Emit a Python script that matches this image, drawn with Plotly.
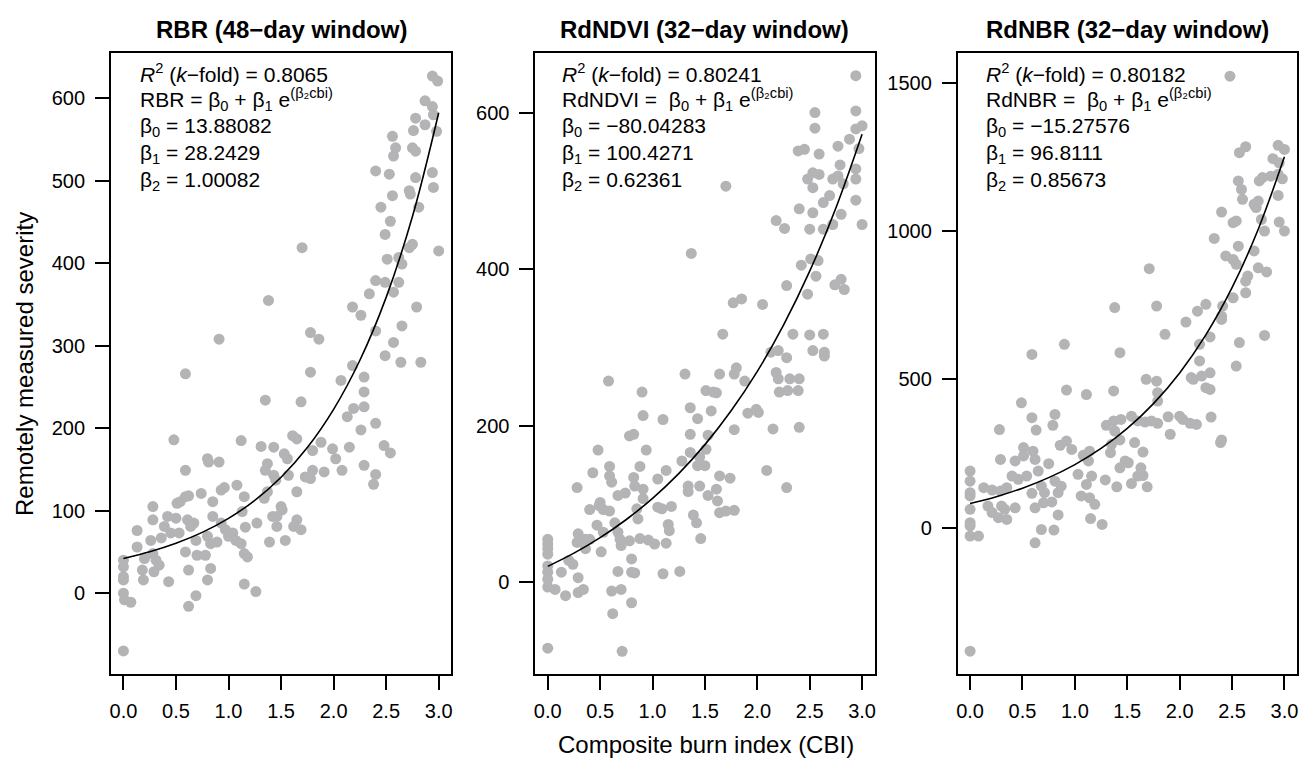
import plotly.graph_objects as go

# ---------------- data ----------------
rbr_cbi = [2.94, 2.99, 2.87, 2.94, 2.95, 2.78, 2.87, 2.98, 2.76, 2.56, 2.59, 2.57, 2.75, 2.78, 2.40, 2.53,
           2.78, 2.94, 2.95, 2.72, 2.73, 2.56, 2.81, 2.45, 2.54, 2.49, 2.75, 2.72, 3.00, 1.70, 2.51, 2.62,
           2.65, 2.40, 2.49, 2.57, 2.62, 2.34, 2.18, 2.26, 2.79, 1.38, 2.65, 2.40, 1.78, 1.86, 0.91, 2.57,
           2.49, 2.64, 2.83, 2.18, 0.59, 1.78, 2.07, 2.29,
           2.29, 1.35, 1.69, 2.19, 2.29, 2.13, 2.40, 2.26, 0.48, 1.12, 1.61, 1.65, 1.88, 1.31, 1.43, 1.53,
           1.56, 1.99, 2.02, 2.15, 1.80, 2.48, 2.54, 0.80, 0.81, 0.91, 1.37, 1.35, 0.59, 1.43, 1.45, 1.57,
           1.73, 1.78, 1.80, 1.91, 2.08, 2.29, 2.40, 2.38, 1.08, 0.93, 0.96, 0.74, 0.62, 0.59, 1.15, 1.65,
           1.34, 1.37, 0.51, 0.54, 0.85, 0.28, 1.50, 1.51, 1.46, 1.13, 0.42, 0.50, 0.28, 0.85, 0.61, 0.67,
           0.64, 0.93, 1.27, 1.42, 1.65, 1.62, 1.69, 1.46, 1.16, 0.13, 0.39, 0.45, 0.53, 0.97, 1.04, 1.00,
           0.36, 0.26, 0.69, 0.80, 0.83, 0.89, 1.07, 1.12, 1.39, 1.54, 0.13, 0.28, 0.20, 0.31, 0.59, 0.70,
           0.78, 1.15, 1.18, 0.00, 0.00, 0.00, 0.34, 0.29, 0.18, 0.62, 0.83, 0.19, 0.43, 0.80, 0.00, 0.00,
           0.01, 0.07, 0.69, 0.62, 1.15, 1.26, 0.00]
rbr_val = [627, 621, 597, 590, 580, 576, 568, 560, 561, 554, 540, 530, 540, 536, 512, 508,
           504, 510, 492, 488, 484, 482, 468, 468, 451, 435, 423, 419, 415, 419, 405, 407,
           399, 379, 377, 365, 377, 363, 347, 337, 347, 355, 324, 318, 316, 308, 308, 304,
           288, 280, 280, 276, 266, 268, 258, 262,
           244, 234, 232, 224, 226, 214, 206, 198, 186, 185, 191, 187, 183, 178, 177, 169,
           163, 175, 163, 177, 173, 179, 170, 163, 159, 159, 157, 149, 149, 143, 137, 143,
           141, 139, 149, 147, 149, 155, 144, 132, 131, 125, 128, 121, 118, 117, 117, 123,
           115, 123, 109, 111, 111, 105, 105, 101, 93, 99, 93, 91, 89, 93, 89, 85,
           81, 85, 85, 93, 89, 81, 77, 81, 80, 76, 81, 73, 73, 77, 73, 69,
           67, 64, 64, 69, 60, 62, 64, 60, 62, 64, 56, 48, 42, 40, 50, 46,
           46, 48, 44, 40, 32, 20, 34, 26, 28, 28, 30, 16, 14, 16, 16, 0,
           -8, -11, -3, -16, 11, 2, -70]

ndvi_cbi = [2.94, 2.55, 2.94, 2.55, 3.00, 2.94, 2.88, 2.77, 2.97, 2.39, 2.45, 2.59, 2.79, 2.94, 2.53, 2.59,
            2.48, 2.53, 2.72, 2.77, 2.82, 2.94, 1.70, 2.69, 2.63, 2.94, 2.40, 2.53, 2.80, 2.72, 3.00, 2.18,
            2.26, 2.50, 2.63, 1.37, 2.42, 2.51, 2.58, 2.56, 2.28, 2.48, 2.74, 2.80, 2.83, 1.77, 1.85, 2.05,
            1.67, 2.34, 2.50, 2.63, 2.13, 2.20, 2.28, 2.53, 2.64, 2.64, 1.80, 1.31, 1.64, 1.78, 2.18, 1.88,
            2.20, 2.31, 2.40, 0.58,
            0.90, 1.51, 1.58, 1.61, 2.21, 2.29, 2.39, 1.36, 1.56, 1.91, 1.99, 2.01, 0.91, 1.10, 1.43, 1.78,
            2.15, 2.40, 0.78, 0.82, 1.36, 1.53, 0.48, 0.94, 1.36, 1.28, 1.45, 1.51, 0.59, 0.59, 0.61, 0.88,
            0.43, 1.43, 1.50, 1.13, 1.05, 0.82, 0.83, 0.91, 2.09, 1.64, 1.74, 1.34, 1.34, 1.45, 1.61, 1.53,
            2.28, 0.28, 0.67, 0.74, 0.91, 1.62, 0.50, 0.49, 0.53, 0.59, 0.40, 0.85, 0.86, 1.05, 1.09, 1.18,
            1.64, 1.70, 1.78, 1.39, 1.42, 0.47, 0.64, 1.15, 1.16, 0.29, 0.36, 0.28, 0.36, 0.40, 0.53, 0.67,
            0.69, 0.70, 0.78, 0.88, 0.96, 1.02, 1.13, 1.46, 0.00, 0.00, 0.00, 0.00, 0.00, 0.00, 0.00, 0.00,
            0.51, 0.80, 0.20, 0.24, 0.13, 0.29, 0.67, 0.80, 0.83, 1.10, 1.26, 0.07, 0.17, 0.29, 0.34, 0.61,
            0.70, 0.80, 0.62, 0.00, 0.71]
ndvi_val = [647, 600, 602, 580, 583, 579, 566, 557, 554, 551, 553, 547, 533, 528, 523, 521,
            515, 504, 515, 519, 509, 515, 506, 494, 485, 488, 477, 472, 470, 457, 457, 462,
            452, 451, 451, 420, 405, 413, 411, 391, 379, 368, 380, 387, 374, 357, 362, 355,
            317, 317, 316, 317, 294, 296, 287, 296, 294, 289, 274, 266, 266, 266, 268, 257,
            260, 260, 260, 257,
            243, 245, 243, 242, 243, 245, 245, 223, 219, 216, 221, 217, 213, 208, 209, 195,
            196, 198, 187, 189, 189, 188, 169, 169, 166, 155, 160, 170, 148, 136, 128, 148,
            140, 149, 149, 143, 132, 134, 123, 119, 143, 136, 133, 123, 116, 123, 119, 111,
            121, 121, 111, 114, 107, 104, 102, 98, 93, 91, 93, 94, 81, 96, 94, 97,
            89, 91, 92, 86, 76, 73, 76, 74, 66, 62, 55, 51, 43, 55, 64, 64,
            55, 47, 53, 56, 54, 49, 50, 56, 55, 49, 43, 36, 21, 13, 4, -6,
            39, 30, 28, 23, 13, 6, 14, 13, 12, 11, 14, -9, -17, -13, -9, -11,
            -9, -26, -40, -84, -88]

nbr_cbi = [2.48, 2.57, 2.63, 2.94, 3.00, 2.89, 2.95, 2.56, 2.59, 2.60, 2.76, 2.79, 2.87, 2.94, 2.98, 2.94,
           2.75, 2.73, 2.71, 2.40, 2.51, 2.54, 2.78, 2.95, 3.00, 2.81, 2.33, 2.56, 2.71, 2.44, 2.51, 2.54,
           1.71, 2.75, 2.83, 2.65, 2.63, 2.63, 2.51, 2.41, 2.25, 2.17, 1.38, 1.78, 2.40, 2.40, 2.06, 1.86,
           2.29, 2.19, 2.81, 0.90, 0.59, 1.43, 2.57, 2.19, 2.54, 2.29, 2.21, 1.68, 1.78, 2.11,
           2.13, 2.25, 2.29, 1.79, 1.79, 0.92, 1.11, 1.37, 0.49, 0.81, 0.59, 0.63, 0.79, 0.28, 1.30, 1.37,
           1.44, 1.54, 1.38, 1.60, 1.67, 1.73, 1.79, 1.89, 2.00, 2.03, 2.10, 2.16, 2.30, 1.91, 2.40, 2.39,
           0.86, 0.92, 0.97, 0.51, 0.51, 0.60, 0.62, 0.43, 0.29, 0.75, 1.08, 1.14, 1.13, 1.35, 1.34, 1.43,
           1.57, 1.65, 1.48, 1.51, 1.43, 1.63, 1.65, 1.60, 0.00, 0.00, 0.00, 0.00, 0.13, 0.21, 0.29, 0.35,
           0.40, 0.46, 0.54, 0.65, 0.81, 0.87, 0.84, 0.68, 0.71, 0.59, 1.03, 1.16, 1.11, 1.29, 1.40, 1.54,
           1.69, 1.06, 1.14, 1.19, 0.00, 0.00, 0.00, 0.00, 0.08, 0.17, 0.21, 0.27, 0.35, 0.43, 0.30, 0.33,
           0.62, 0.70, 0.78, 0.84, 0.68, 0.80, 0.62, 1.15, 1.26, 0.00]
nbr_val = [1522, 1264, 1284, 1289, 1275, 1244, 1230, 1169, 1140, 1107, 1169, 1180, 1185, 1191, 1176, 1120,
           1101, 1079, 1090, 1064, 1028, 1034, 1039, 1030, 1000, 1000, 975, 949, 933, 916, 904, 888,
           873, 876, 862, 848, 831, 792, 775, 747, 753, 730, 742, 747, 713, 702, 693, 652,
           643, 618, 648, 618, 584, 590, 624, 562, 545, 522, 511, 500, 494, 506,
           500, 472, 466, 455, 427, 464, 449, 461, 421, 382, 371, 329, 345, 331, 345, 360,
           365, 376, 326, 360, 356, 360, 352, 374, 376, 365, 352, 348, 373, 315, 296, 287,
           278, 292, 264, 270, 242, 258, 230, 225, 230, 216, 244, 258, 225, 281, 253, 296,
           287, 255, 225, 219, 202, 202, 176, 174, 191, 157, 118, 107, 135, 127, 124, 135,
           174, 163, 174, 191, 157, 140, 118, 140, 118, 116, 180, 174, 146, 161, 138, 149,
           138, 107, 101, 79, 62, 17, 6, -28, -28, 73, 51, 34, 28, 67, 73, 62,
           67, 84, 87, 43, -6, -8, -51, 31, 11, -416]

# fitted curves at regular CBI steps
curve_cbi = [0.0, 0.25, 0.5, 0.75, 1.0, 1.25, 1.5, 1.75, 2.0, 2.25, 2.5, 2.75, 3.0]
rbr_curve = [42.1, 50.2, 60.5, 73.7, 90.7, 112.6, 140.6, 176.6, 222.9, 282.4, 358.7, 456.7, 582.6]
ndvi_curve = [20.4, 37.3, 57.1, 80.3, 107.3, 138.9, 175.9, 219.1, 269.5, 328.5, 397.4, 478.0, 572.1]
nbr_curve = [81.5, 104.7, 133.3, 168.8, 212.8, 267.2, 334.7, 418.3, 521.8, 650.1, 809.1, 1006.0, 1250.0]

titles = ["RBR (48\u2212day window)", "RdNDVI (32\u2212day window)", "RdNBR (32\u2212day window)"]
r2_text = ["0.8065", "0.80241", "0.80182"]
eq_names = ["RBR = ", "RdNDVI =  ", "RdNBR =  "]
b0_text = ["13.88082", "\u221280.04283", "\u221215.27576"]
b1_text = ["28.2429", "100.4271", "96.8111"]
b2_text = ["1.00082", "0.62361", "0.85673"]

y_ticks = [[0, 100, 200, 300, 400, 500, 600], [0, 200, 400, 600], [0, 500, 1000, 1500]]
y_ranges = [[-98, 655], [-117, 676], [-493, 1600]]
x_ticks = [0.0, 0.5, 1.0, 1.5, 2.0, 2.5, 3.0]
x_tick_labels = ["0.0", "0.5", "1.0", "1.5", "2.0", "2.5", "3.0"]

x_title = "Composite burn index (CBI)"
y_title = "Remotely measured severity"

# ---------------- layout geometry (window pixels) ----------------
W, H = 1303, 758
FONT = "Liberation Sans, Arial, Helvetica, sans-serif"
panels_px = [(110, 451), (535, 875), (958, 1298)]
top_px, bot_px = 53, 674
text_left_px = [137, 560, 985]
line_y_px = [73, 100, 127, 154, 181]


def px(x):
    return x / W


def py(y):
    return 1 - y / H


POINT_COLOR = "#b4b4b6"

fig = go.Figure()
series = [(rbr_cbi, rbr_val, rbr_curve), (ndvi_cbi, ndvi_val, ndvi_curve), (nbr_cbi, nbr_val, nbr_curve)]
annotations = []
for i, (xs, ys, cv) in enumerate(series):
    ax = "" if i == 0 else str(i + 1)
    fig.add_trace(go.Scatter(x=xs, y=ys, mode="markers", xaxis="x" + ax, yaxis="y" + ax,
                             marker=dict(size=11, color=POINT_COLOR, line=dict(width=0)),
                             showlegend=False, hoverinfo="skip"))
    fig.add_trace(go.Scatter(x=curve_cbi, y=cv, mode="lines", xaxis="x" + ax, yaxis="y" + ax,
                             line=dict(color="black", width=1.6, shape="spline"),
                             showlegend=False, hoverinfo="skip"))
    x0, x1 = panels_px[i]
    common = dict(showline=True, mirror=True, linecolor="black", linewidth=1.5,
                  ticks="outside", ticklen=14, tickwidth=1.5, tickcolor="black",
                  showgrid=False, zeroline=False,
                  tickfont=dict(family=FONT, size=20, color="black"))
    fig.update_layout(**{
        "xaxis" + ax: dict(domain=[px(x0), px(x1)], range=[-0.12, 3.12], anchor="y" + ax,
                           tickvals=x_ticks, ticktext=x_tick_labels, ticklabelstandoff=4, **common),
        "yaxis" + ax: dict(domain=[py(bot_px), py(top_px)], range=y_ranges[i], anchor="x" + ax,
                           tickvals=y_ticks[i], ticklabelstandoff=6, **common),
    })
    # panel title
    annotations.append(dict(x=px((x0 + x1) / 2), y=py(29), xref="paper", yref="paper",
                            text="<b>" + titles[i] + "</b>", showarrow=False,
                            xanchor="center", yanchor="middle",
                            font=dict(family=FONT, size=24, color="black")))
    lines = [
        "<i>R</i><sup>2</sup> (<i>k</i>\u2212fold) = " + r2_text[i],
        eq_names[i] + "\u03b2<sub>0</sub> + \u03b2<sub>1</sub> e<sup>(\u03b2\u2082cbi)</sup>",
        "\u03b2<sub>0</sub> = " + b0_text[i],
        "\u03b2<sub>1</sub> = " + b1_text[i],
        "\u03b2<sub>2</sub> = " + b2_text[i],
    ]
    for j, t in enumerate(lines):
        annotations.append(dict(x=px(text_left_px[i]), y=py(line_y_px[j]), xref="paper", yref="paper",
                                text=t, showarrow=False, xanchor="left", yanchor="middle",
                                font=dict(family=FONT, size=21, color="black")))

annotations.append(dict(x=px(706), y=py(744), xref="paper", yref="paper", text=x_title,
                        showarrow=False, xanchor="center", yanchor="middle",
                        font=dict(family=FONT, size=24, color="black")))
annotations.append(dict(x=px(23), y=py(364), xref="paper", yref="paper", text=y_title,
                        showarrow=False, xanchor="center", yanchor="middle", textangle=-90,
                        font=dict(family=FONT, size=24, color="black")))

fig.update_layout(width=W, height=H, margin=dict(l=0, r=0, t=0, b=0),
                  paper_bgcolor="white", plot_bgcolor="white",
                  annotations=annotations, showlegend=False)

# the page's default 8px body margin would push the fixed-size figure out of the window
fig.write_html("out.html", config={"displayModeBar": False},
               post_script="document.body.style.margin='0px';")
